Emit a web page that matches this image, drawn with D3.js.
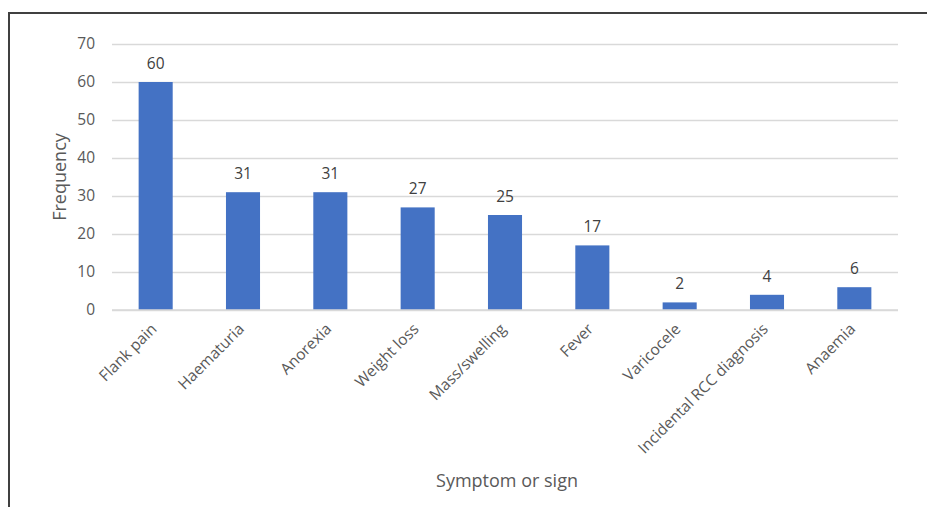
<!DOCTYPE html>
<html>
<head>
<meta charset="utf-8">
<script src="https://cdn.jsdelivr.net/npm/d3@7"></script>
<style>
  html, body { margin: 0; padding: 0; background: #fff; }
  svg { display: block; font-family: "Open Sans", "Noto Sans", sans-serif; }
</style>
</head>
<body>
<svg id="chart" width="927" height="507"></svg>
<script>
// Presenting symptoms and signs
const categories = ["Flank pain", "Haematuria", "Anorexia", "Weight loss", "Mass/swelling",
                    "Fever", "Varicocele", "Incidental RCC diagnosis", "Anaemia"];
const frequency = [60, 31, 31, 27, 25, 17, 2, 4, 6];
const yTicks = [0, 10, 20, 30, 40, 50, 60, 70];

const svg = d3.select("#chart");
const plotLeft = 112, plotRight = 898, plotTop = 44, plotBottom = 310;
const fontFamily = "'Open Sans', 'Noto Sans', sans-serif";

// Outer frame (runs off the right and bottom edges)
svg.append("rect")
  .attr("x", 9).attr("y", 13)
  .attr("width", 1000).attr("height", 600)
  .attr("fill", "none").attr("stroke", "#404040").attr("stroke-width", 2);

const x = d3.scaleBand().domain(categories).range([plotLeft, plotRight]).paddingInner(0.61).paddingOuter(0.305);
const y = d3.scaleLinear().domain([0, 70]).range([plotBottom, plotTop]);

// Gridlines and value axis
const yAxis = svg.append("g")
  .attr("transform", `translate(${plotLeft},0)`)
  .call(d3.axisLeft(y).tickValues(yTicks).tickSize(-(plotRight - plotLeft)).tickPadding(17));
yAxis.select(".domain").remove();
yAxis.selectAll(".tick line").attr("stroke", "#d9d9d9").attr("stroke-width", 1.3);
yAxis.selectAll(".tick text").attr("fill", "#595959").attr("font-size", 15.5)
  .attr("font-family", fontFamily);

// Bars
svg.append("g").selectAll("rect")
  .data(frequency)
  .join("rect")
  .attr("x", (d, i) => x(categories[i]))
  .attr("y", d => y(d))
  .attr("width", x.bandwidth())
  .attr("height", d => y(0) - y(d))
  .attr("fill", "#4472C4");

// Category baseline
svg.append("line")
  .attr("x1", plotLeft).attr("x2", plotRight).attr("y1", y(0)).attr("y2", y(0))
  .attr("stroke", "#d9d9d9").attr("stroke-width", 1.3);

// Value labels
svg.append("g").selectAll("text")
  .data(frequency)
  .join("text")
  .attr("x", (d, i) => x(categories[i]) + x.bandwidth() / 2)
  .attr("y", d => y(d) - 13)
  .attr("text-anchor", "middle")
  .attr("fill", "#404040").attr("font-size", 15.5)
  .text(d => d);

// Category axis labels, rotated
const xAxis = svg.append("g")
  .attr("transform", `translate(0,${plotBottom})`)
  .call(d3.axisBottom(x).tickSize(0).tickPadding(0));
xAxis.select(".domain").remove();
xAxis.selectAll(".tick text")
  .attr("fill", "#595959").attr("font-size", 15.5)
  .attr("font-family", fontFamily)
  .attr("text-anchor", "end")
  .attr("y", 0).attr("dy", 0)
  .attr("transform", "translate(2,20) rotate(-45)");

// Axis titles
svg.append("text")
  .attr("transform", `translate(66,${(plotTop + plotBottom) / 2}) rotate(-90)`)
  .attr("text-anchor", "middle")
  .attr("fill", "#595959").attr("font-size", 18)
  .text("Frequency");

svg.append("text")
  .attr("x", 507).attr("y", 487)
  .attr("text-anchor", "middle")
  .attr("fill", "#595959").attr("font-size", 18)
  .text("Symptom or sign");
</script>
</body>
</html>
